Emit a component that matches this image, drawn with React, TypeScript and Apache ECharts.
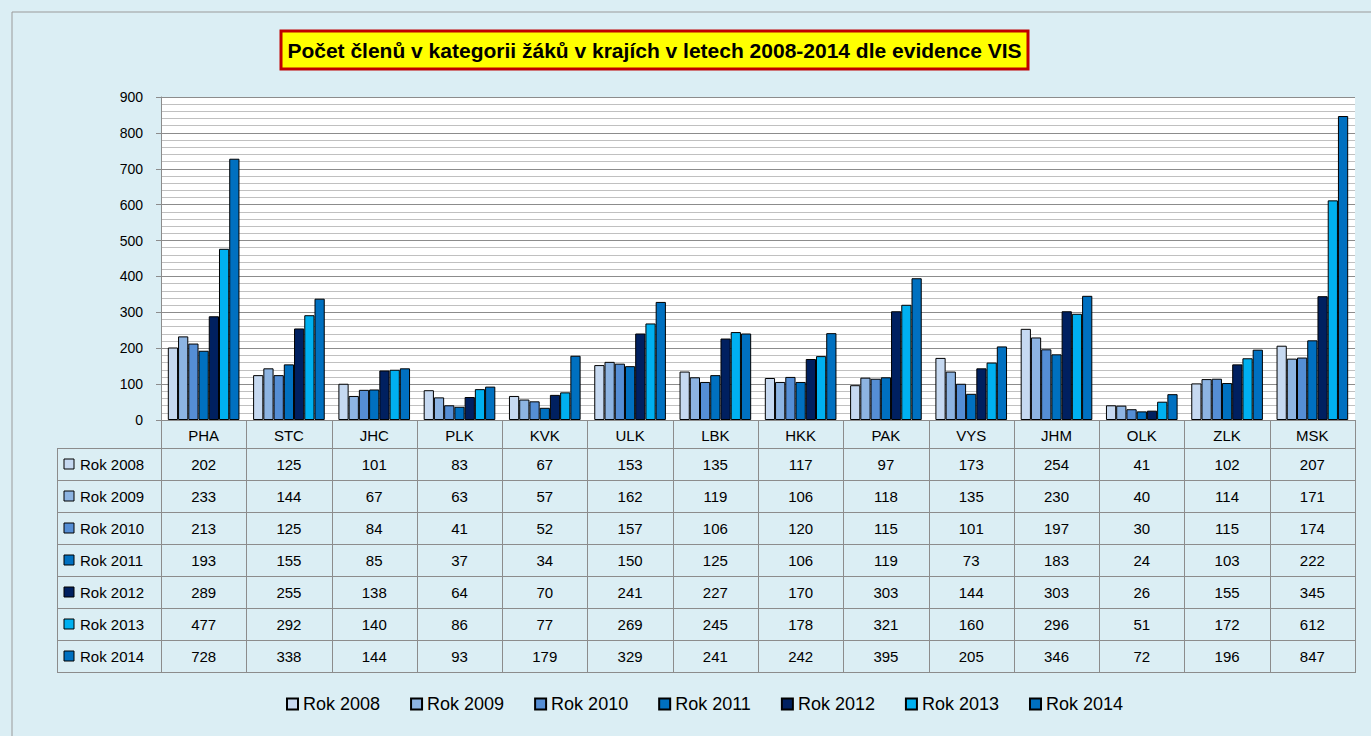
import React, { useEffect, useRef } from "react";
import * as echarts from "echarts";

const categories = ["PHA", "STC", "JHC", "PLK", "KVK", "ULK", "LBK", "HKK", "PAK", "VYS", "JHM", "OLK", "ZLK", "MSK"];
const seriesNames = ["Rok 2008", "Rok 2009", "Rok 2010", "Rok 2011", "Rok 2012", "Rok 2013", "Rok 2014"];
const rok2008 = [202, 125, 101, 83, 67, 153, 135, 117, 97, 173, 254, 41, 102, 207];
const rok2009 = [233, 144, 67, 63, 57, 162, 119, 106, 118, 135, 230, 40, 114, 171];
const rok2010 = [213, 125, 84, 41, 52, 157, 106, 120, 115, 101, 197, 30, 115, 174];
const rok2011 = [193, 155, 85, 37, 34, 150, 125, 106, 119, 73, 183, 24, 103, 222];
const rok2012 = [289, 255, 138, 64, 70, 241, 227, 170, 303, 144, 303, 26, 155, 345];
const rok2013 = [477, 292, 140, 86, 77, 269, 245, 178, 321, 160, 296, 51, 172, 612];
const rok2014 = [728, 338, 144, 93, 179, 329, 241, 242, 395, 205, 346, 72, 196, 847];
const seriesValues = [rok2008, rok2009, rok2010, rok2011, rok2012, rok2013, rok2014];
const colors = ["#c6d9f1", "#8db4e2", "#558ed5", "#0070c0", "#002060", "#00b0f0", "#0070c0"];
const title = "Počet členů v kategorii žáků v krajích v letech 2008-2014 dle evidence VIS";

const W = 1371, H = 736;
const plotL = 161, plotR = 1355, plotT = 97, plotB = 420;
const tableLabelL = 57;
const headerB = 448;
const rowH = 32;
const FONT = "'Liberation Sans', sans-serif";

export default function App() {
  const ref = useRef<HTMLDivElement>(null);
  useEffect(() => {
    if (!ref.current) return;
    const chart = echarts.init(ref.current, undefined, { renderer: "svg", width: W, height: H });
    const catW = (plotR - plotL) / categories.length;
    const tableB = headerB + rowH * seriesNames.length;
    const graphics: any[] = [];
    // outer border
    graphics.push({ type: "rect", shape: { x: 12, y: 12, width: W + 10, height: H + 10 }, style: { fill: "none", stroke: "#9a9a9a", lineWidth: 1 }, silent: true, z: 0 });
    // title box
    graphics.push({ type: "rect", shape: { x: 281, y: 31, width: 747, height: 38 }, style: { fill: "#ffff00", stroke: "#c00000", lineWidth: 3 }, z: 10 });
    graphics.push({ type: "text", x: 654.5, y: 50, style: { text: title, fill: "#000", font: `bold 21px ${FONT}`, align: "center", verticalAlign: "middle" }, z: 11 });
    // table lines
    const lineStyle = { stroke: "#8c8c8c", lineWidth: 1 };
    for (let i = 0; i <= categories.length; i++) {
      const x = Math.round(plotL + i * catW) + 0.5;
      graphics.push({ type: "line", shape: { x1: x, y1: plotB, x2: x, y2: tableB }, style: lineStyle, z: 5 });
    }
    graphics.push({ type: "line", shape: { x1: tableLabelL + 0.5, y1: headerB, x2: tableLabelL + 0.5, y2: tableB }, style: lineStyle, z: 5 });
    for (let j = 0; j <= seriesNames.length; j++) {
      const y = headerB + j * rowH + 0.5;
      graphics.push({ type: "line", shape: { x1: tableLabelL, y1: y, x2: plotR + 1, y2: y }, style: lineStyle, z: 5 });
    }
    // table contents
    seriesNames.forEach((name, j) => {
      const cy = headerB + j * rowH + rowH / 2;
      graphics.push({ type: "rect", shape: { x: 64, y: cy - 5, width: 10, height: 10 }, style: { fill: colors[j], stroke: "#000", lineWidth: 1 }, z: 6 });
      graphics.push({ type: "text", x: 80, y: cy, style: { text: name, fill: "#000", font: `15px ${FONT}`, align: "left", verticalAlign: "middle" }, z: 6 });
      seriesValues[j].forEach((v, i) => {
        graphics.push({ type: "text", x: plotL + (i + 0.5) * catW, y: cy, style: { text: String(v), fill: "#000", font: `15px ${FONT}`, align: "center", verticalAlign: "middle" }, z: 6 });
      });
    });

    chart.setOption({
      animation: false,
      backgroundColor: "#dbeef4",
      grid: { left: plotL, top: plotT, width: plotR - plotL, height: plotB - plotT, show: true, backgroundColor: "#ffffff", borderWidth: 0 },
      legend: {
        bottom: 18,
        left: 281,
        itemWidth: 11,
        itemHeight: 11,
        itemGap: 30,
        textStyle: { fontFamily: FONT, fontSize: 18, color: "#000" },
        data: seriesNames.map((n) => ({ name: n, icon: "rect" })),
      },
      xAxis: {
        type: "category",
        data: categories,
        axisLine: { show: true, lineStyle: { color: "#8c8c8c" } },
        axisTick: { show: false },
        axisLabel: { margin: 8, fontFamily: FONT, fontSize: 15, color: "#000" },
      },
      yAxis: {
        type: "value",
        min: 0,
        max: 900,
        interval: 100,
        axisLine: { show: true, lineStyle: { color: "#8c8c8c" } },
        axisTick: { show: true, length: 5, lineStyle: { color: "#8c8c8c" } },
        axisLabel: { margin: 18, fontFamily: FONT, fontSize: 14, color: "#000" },
        splitLine: { lineStyle: { color: "#8c8c8c", width: 1 } },
        minorTick: { show: false, splitNumber: 5 },
        minorSplitLine: { show: true, lineStyle: { color: "#c0c0c0", width: 1 } },
      },
      graphic: graphics,
      series: seriesNames.map((n, j) => ({
        name: n,
        type: "bar",
        data: seriesValues[j],
        barGap: "0%",
        barCategoryGap: "16%",
        itemStyle: { color: colors[j], borderColor: "#000", borderWidth: 1 },
      })),
    });
    return () => chart.dispose();
  }, []);
  return <div ref={ref} style={{ position: "fixed", left: 0, top: 0, width: W, height: H }} />;
}
